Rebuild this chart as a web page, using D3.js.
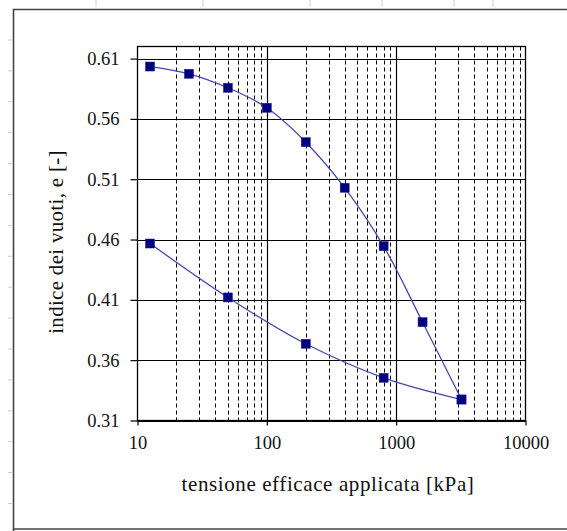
<!DOCTYPE html>
<html>
<head>
<meta charset="utf-8">
<script src="https://cdn.jsdelivr.net/npm/d3@7"></script>
<style>
  html, body { margin: 0; padding: 0; background: #fff; }
  svg { display: block; }
  text { font-family: "Liberation Serif", "DejaVu Serif", serif; fill: #111; }
</style>
</head>
<body>
<svg id="chart" width="567" height="531"></svg>
<script>
// ---- data ----
const loadStress   = [12.5, 25, 50, 100, 200, 400, 800, 1600, 3200];
const loadVoid     = [0.6034, 0.5974, 0.5858, 0.5692, 0.5407, 0.5029, 0.4545, 0.3915, 0.3274];
const unloadStress = [3200, 800, 200, 50, 12.5];
const unloadVoid   = [0.3274, 0.3454, 0.3736, 0.4120, 0.4567];
const yTicks = [0.31, 0.36, 0.41, 0.46, 0.51, 0.56, 0.61];
const xTicks = [10, 100, 1000, 10000];
const xTitle = "tensione efficace applicata [kPa]";
const yTitle = "indice dei vuoti, e [-]";

const FONT = "'Liberation Serif', 'DejaVu Serif', serif";
const svg = d3.select("#chart");

// Excel sheet background bits (chart area frame + sheet ticks)
const sheetColTicks = [96, 203, 310, 382, 454, 493];
const sheetRowTicks = d3.range(16).map(i => 40 + i * 30.9);
svg.selectAll(".ct").data(sheetColTicks).enter().append("line")
  .attr("x1", d => d).attr("x2", d => d).attr("y1", 0).attr("y2", 7)
  .attr("stroke", "#c8cce0").attr("stroke-width", 1);
svg.selectAll(".rt").data(sheetRowTicks).enter().append("line")
  .attr("x1", 8).attr("x2", 12).attr("y1", d => d).attr("y2", d => d)
  .attr("stroke", "#c8cce0").attr("stroke-width", 1);
svg.append("path")
  .attr("d", "M13.5,531 L13.5,9.5 L567,9.5 M13.5,529 L567,529")
  .attr("fill", "none").attr("stroke", "#444").attr("stroke-width", 1.6);

// ---- plot area ----
const L = 137.5, R = 525.5, T = 46.5, B = 420.5;
const x = d3.scaleLog().domain([10, 10000]).range([L, R]);
const y = d3.scaleLinear().domain([0.31, 0.62]).range([B, T]);

const g = svg.append("g");

const minor = [];
[10, 100, 1000].forEach(dec => { for (let k = 2; k <= 9; k++) minor.push(dec * k); });
g.selectAll(".vmin").data(minor).enter().append("line")
  .attr("x1", d => Math.round(x(d)) + 0.5).attr("x2", d => Math.round(x(d)) + 0.5)
  .attr("y1", T).attr("y2", B)
  .attr("stroke", "#000").attr("stroke-width", 1).attr("stroke-dasharray", "4,3");

g.selectAll(".vmaj").data([100, 1000]).enter().append("line")
  .attr("x1", d => Math.round(x(d)) + 0.5).attr("x2", d => Math.round(x(d)) + 0.5)
  .attr("y1", T).attr("y2", B)
  .attr("stroke", "#000").attr("stroke-width", 1.2);

g.selectAll(".hmaj").data(yTicks).enter().append("line")
  .attr("x1", L).attr("x2", R)
  .attr("y1", d => Math.round(y(d)) + 0.5).attr("y2", d => Math.round(y(d)) + 0.5)
  .attr("stroke", "#000").attr("stroke-width", 1.2);

g.append("rect").attr("x", L).attr("y", T).attr("width", R - L).attr("height", B - T)
  .attr("fill", "none").attr("stroke", "#000").attr("stroke-width", 1.3);

// axes
const yAxis = d3.axisLeft(y).tickValues(yTicks).tickFormat(d3.format(".2f"))
  .tickSize(7).tickPadding(11);
const yg = svg.append("g").attr("transform", `translate(${L},0)`).call(yAxis);
const xAxis = d3.axisBottom(x).tickValues(xTicks).tickFormat(d3.format("d"))
  .tickSize(5).tickPadding(10);
const xg = svg.append("g").attr("transform", `translate(0,${B})`).call(xAxis);
[yg, xg].forEach(a => {
  a.attr("font-family", FONT);
  a.select(".domain").remove();
  a.selectAll(".tick line").attr("stroke", "#000").attr("stroke-width", 1.2);
  a.selectAll(".tick text").attr("font-family", FONT).style("font-family", FONT)
    .style("font-size", "18.5px").attr("fill", "#111");
});

// lines
const line = d3.line().x(d => x(d[0])).y(d => y(d[1])).curve(d3.curveCatmullRom.alpha(0.5));
const loadPts = loadStress.map((s, i) => [s, loadVoid[i]]);
const unloadPts = unloadStress.map((s, i) => [s, unloadVoid[i]]);
[loadPts, unloadPts].forEach(pts => {
  svg.append("path").datum(pts).attr("d", line)
    .attr("fill", "none").attr("stroke", "#4848b0").attr("stroke-width", 1.3);
});
const allPts = loadPts.concat(unloadPts);
svg.selectAll(".mk").data(allPts).enter().append("rect")
  .attr("x", d => x(d[0]) - 4.5).attr("y", d => y(d[1]) - 4.5)
  .attr("width", 9).attr("height", 9)
  .attr("fill", "#000080").attr("stroke", "#1a1a90").attr("stroke-width", 0.5);

// titles
svg.append("text").attr("x", 328).attr("y", 491)
  .attr("text-anchor", "middle").attr("font-family", FONT)
  .style("font-size", "21px").style("letter-spacing", "0.6px").text(xTitle);
svg.append("text").attr("transform", `translate(63,242) rotate(-90)`)
  .attr("text-anchor", "middle").attr("font-family", FONT)
  .style("font-size", "21px").style("letter-spacing", "0.3px").text(yTitle);
</script>
</body>
</html>
